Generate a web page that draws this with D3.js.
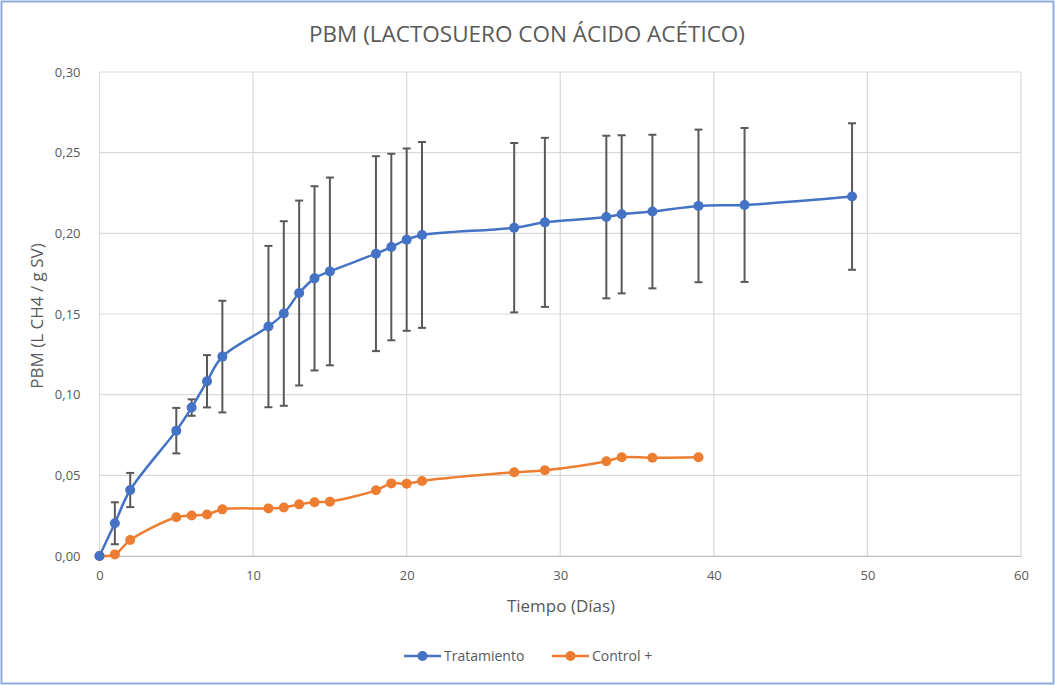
<!DOCTYPE html>
<html>
<head>
<meta charset="utf-8">
<script src="https://cdn.jsdelivr.net/npm/d3@7"></script>
<style>
  html, body { margin: 0; padding: 0; background: #fff; }
  svg { display: block; }
  text { font-family: "Open Sans", "Noto Sans", sans-serif; fill: #595959; }
</style>
</head>
<body>
<svg id="chart" width="1055" height="685"></svg>
<script>
// Cumulative biomethane potential (L CH4 / g SV) by day
const days = [0, 1, 2, 5, 6, 7, 8, 11, 12, 13, 14, 15, 18, 19, 20, 21, 27, 29, 33, 34, 36, 39, 42, 49];
const tratamiento = [0, 0.0203, 0.0409, 0.0777, 0.0920, 0.1083, 0.1236, 0.1422, 0.1503, 0.1630, 0.1721, 0.1764,
  0.1874, 0.1915, 0.1961, 0.1990, 0.2035, 0.2068, 0.2101, 0.2118, 0.2135, 0.2170, 0.2176, 0.2228];
const tratamientoSD = [0, 0.0130, 0.0106, 0.0141, 0.0051, 0.0162, 0.0346, 0.0500, 0.0572, 0.0573, 0.0571, 0.0582,
  0.0604, 0.0578, 0.0565, 0.0576, 0.0525, 0.0524, 0.0504, 0.0490, 0.0476, 0.0473, 0.0477, 0.0454];

const controlDays = [0, 1, 2, 5, 6, 7, 8, 11, 12, 13, 14, 15, 18, 19, 20, 21, 27, 29, 33, 34, 36, 39];
const control = [0, 0.0010, 0.0099, 0.0240, 0.0251, 0.0257, 0.0289, 0.0295, 0.0301, 0.0320, 0.0333, 0.0337,
  0.0407, 0.0450, 0.0448, 0.0465, 0.0519, 0.0531, 0.0587, 0.0612, 0.0609, 0.0612];

const xTicks = [0, 10, 20, 30, 40, 50, 60];
const yTicks = [0, 0.05, 0.10, 0.15, 0.20, 0.25, 0.30];

const titleText = "PBM (LACTOSUERO CON ÁCIDO ACÉTICO)";
const xTitle = "Tiempo (Días)";
const yTitle = "PBM (L CH4 / g SV)";
const seriesNames = ["Tratamiento", "Control +"];
const seriesColors = ["#4472C4", "#ED7D31"];

const svg = d3.select("#chart");
const W = 1055, H = 685;
const plot = { left: 99.5, right: 1021, top: 72, bottom: 556 };

// outer chart frame
svg.append("rect")
  .attr("x", 1.5).attr("y", 1.5).attr("width", W - 3).attr("height", H - 3)
  .attr("fill", "#fff").attr("stroke", "#8FAADC").attr("stroke-width", 2);

const x = d3.scaleLinear().domain([0, 60]).range([plot.left, plot.right]);
const y = d3.scaleLinear().domain([0, 0.30]).range([plot.bottom, plot.top]);
const fmt = v => d3.format(".2f")(v).replace(".", ",");

// gridlines
const grid = svg.append("g").attr("stroke", "#D9D9D9").attr("stroke-width", 1.2);
grid.selectAll("line.h").data(yTicks).join("line")
  .attr("x1", plot.left).attr("x2", plot.right)
  .attr("y1", d => y(d)).attr("y2", d => y(d));
grid.selectAll("line.v").data(xTicks).join("line")
  .attr("y1", plot.top).attr("y2", plot.bottom)
  .attr("x1", d => x(d)).attr("x2", d => x(d));

// axes (tick labels only, Excel style)
const yAxis = svg.append("g").attr("transform", `translate(${plot.left},0)`)
  .call(d3.axisLeft(y).tickValues(yTicks).tickFormat(fmt).tickSize(0).tickPadding(19));
yAxis.select(".domain").remove();
yAxis.selectAll("text").attr("font-size", 13).attr("fill", "#595959")
  .style("font-family", "'Open Sans', sans-serif");

const xAxis = svg.append("g").attr("transform", `translate(0,${plot.bottom})`)
  .call(d3.axisBottom(x).tickValues(xTicks).tickFormat(d3.format("d")).tickSize(0).tickPadding(15));
xAxis.select(".domain").attr("stroke", "#BFBFBF").attr("stroke-width", 1.2);
xAxis.selectAll("text").attr("font-size", 13).attr("fill", "#595959")
  .style("font-family", "'Open Sans', sans-serif");

// titles
svg.append("text").attr("x", 527).attr("y", 42).attr("text-anchor", "middle")
  .attr("font-size", 22.5).text(titleText);
svg.append("text").attr("x", 561).attr("y", 612).attr("text-anchor", "middle")
  .attr("font-size", 17).text(xTitle);
svg.append("text").attr("transform", "translate(43,316) rotate(-90)").attr("text-anchor", "middle")
  .attr("font-size", 17).text(yTitle);

const lineGen = d3.line()
  .x(d => x(d[0])).y(d => y(d[1]))
  .curve(d3.curveCatmullRom.alpha(0.5));

// error bars for Tratamiento
const eb = svg.append("g").attr("stroke", "#595959").attr("stroke-width", 2);
days.forEach((d, i) => {
  const sd = tratamientoSD[i];
  if (!sd) return;
  const cx = x(d), y1 = y(tratamiento[i] + sd), y0 = y(tratamiento[i] - sd);
  eb.append("line").attr("x1", cx).attr("x2", cx).attr("y1", y1).attr("y2", y0);
  eb.append("line").attr("x1", cx - 4).attr("x2", cx + 4).attr("y1", y1).attr("y2", y1);
  eb.append("line").attr("x1", cx - 4).attr("x2", cx + 4).attr("y1", y0).attr("y2", y0);
});

const series = [
  { pts: days.map((d, i) => [d, tratamiento[i]]), color: seriesColors[0] },
  { pts: controlDays.map((d, i) => [d, control[i]]), color: seriesColors[1] }
];

series.slice().reverse().forEach(s => {
  svg.append("path").datum(s.pts).attr("d", lineGen)
    .attr("fill", "none").attr("stroke", s.color).attr("stroke-width", 2.5)
    .attr("stroke-linejoin", "round");
  svg.append("g").selectAll("circle").data(s.pts).join("circle")
    .attr("cx", d => x(d[0])).attr("cy", d => y(d[1])).attr("r", 5)
    .attr("fill", s.color);
});

// legend
const legend = svg.append("g");
const legendItems = [
  { name: seriesNames[0], color: seriesColors[0], x0: 404 },
  { name: seriesNames[1], color: seriesColors[1], x0: 552 }
];
legendItems.forEach(it => {
  const ly = 656;
  legend.append("line").attr("x1", it.x0).attr("x2", it.x0 + 37).attr("y1", ly).attr("y2", ly)
    .attr("stroke", it.color).attr("stroke-width", 2.5);
  legend.append("circle").attr("cx", it.x0 + 18.5).attr("cy", ly).attr("r", 5).attr("fill", it.color);
  legend.append("text").attr("x", it.x0 + 40).attr("y", ly + 5).attr("font-size", 14).text(it.name);
});
</script>
</body>
</html>
